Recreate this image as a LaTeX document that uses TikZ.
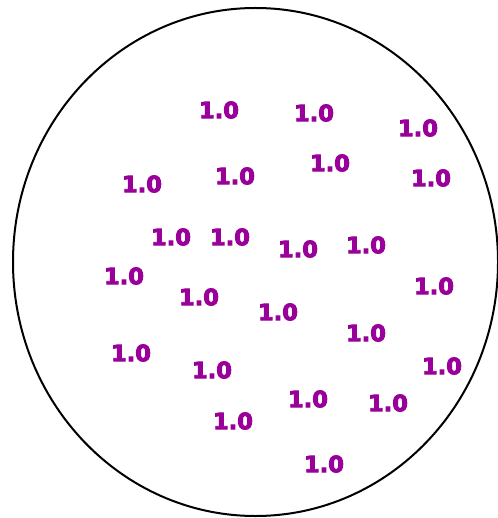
\documentclass[tikz,border=0pt]{standalone}
\usepackage{fontspec}
\setmainfont{DejaVu Sans}
\usetikzlibrary{shapes.geometric}
\definecolor{plum}{RGB}{153,0,153}
\tikzset{
  cell/.style={draw,ellipse,line width=2pt,inner sep=0pt},
  val/.style={text=plum,font=\fontsize{22.5}{24}\selectfont\bfseries,inner sep=0pt,
    execute at begin node={\special{pdf:literal direct 2 Tr 0.9 w}}}
}
\begin{document}
\begin{tikzpicture}[x=1pt,y=-1pt]
\useasboundingbox (0,0) rectangle (497,518);
\node[cell,minimum width=485pt,minimum height=508pt] (region) at (255.5,262) {};
\foreach \x/\y [count=\i] in {219/110,314/113,418/128,142/184,235/176,330/163,431/178,
  171/237,230/237,298/249,366/245,124/276,199/297,434/286,278/312,366/333,
  131/353,212/370,442/366,308/399,388/403,233/421,324/464}
  \node[val] (v\i) at (\x,\y) {1.0};
\end{tikzpicture}
\end{document}
